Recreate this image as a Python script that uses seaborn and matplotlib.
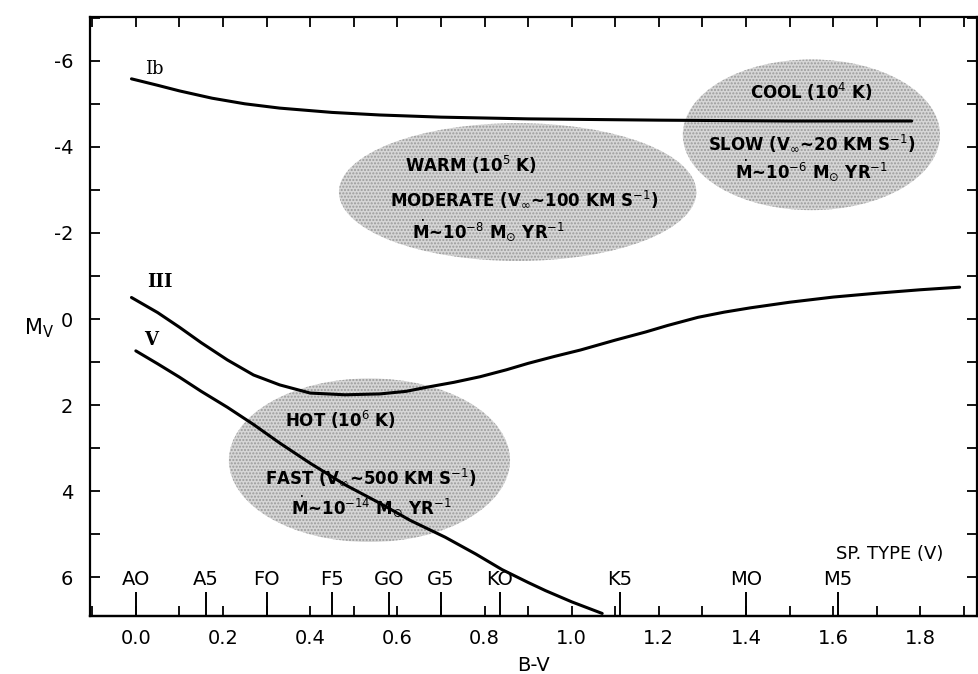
import numpy as np
import pandas as pd
import seaborn as sb
import matplotlib.pyplot as plt
from matplotlib.patches import Ellipse
from matplotlib.ticker import FuncFormatter, MultipleLocator

# luminosity class sequences (B-V vs M_V)
bv_ib = [-0.01, 0.05, 0.1, 0.175, 0.25, 0.33, 0.45, 0.56, 0.7, 0.9, 1.2, 1.5, 1.78]
mv_ib = [-5.58, -5.43, -5.3, -5.13, -5.0, -4.9, -4.8, -4.74, -4.69, -4.65, -4.62, -4.6, -4.6]

bv_iii = [-0.01, 0.05, 0.1, 0.15, 0.21, 0.27, 0.33, 0.40, 0.48, 0.56, 0.62, 0.67, 0.73, 0.79,
          0.85, 0.90, 0.96, 1.02, 1.10, 1.17, 1.22, 1.29, 1.35, 1.41, 1.50, 1.60, 1.70, 1.80, 1.89]
mv_iii = [-0.5, -0.15, 0.19, 0.55, 0.95, 1.3, 1.53, 1.72, 1.76, 1.74, 1.68, 1.58, 1.47, 1.34,
          1.18, 1.03, 0.87, 0.72, 0.49, 0.3, 0.15, -0.04, -0.16, -0.26, -0.39, -0.51, -0.6, -0.68, -0.74]

bv_v = [0.0, 0.05, 0.1, 0.15, 0.21, 0.27, 0.33, 0.40, 0.48, 0.56, 0.63, 0.71, 0.78, 0.84, 0.9, 0.94, 1.0, 1.07]
mv_v = [0.74, 1.04, 1.35, 1.68, 2.05, 2.45, 2.88, 3.35, 3.85, 4.28, 4.68, 5.07, 5.46, 5.82, 6.12, 6.31, 6.57, 6.84]

# spectral types of the main sequence
sp_types = ['AO', 'A5', 'FO', 'F5', 'GO', 'G5', 'KO', 'K5', 'MO', 'M5']
sp_bv = [0.0, 0.16, 0.30, 0.45, 0.58, 0.70, 0.835, 1.11, 1.40, 1.61]

# wind regions: centre B-V, centre M_V, width, height
wind_names = ['cool', 'warm', 'hot']
wind_bv = [1.55, 0.876, 0.536]
wind_mv = [-4.28, -2.95, 3.28]
wind_w = [0.59, 0.82, 0.645]
wind_h = [3.5, 3.2, 3.8]

df = pd.concat([
    pd.DataFrame({'bv': bv_ib, 'mv': mv_ib, 'cls': 'Ib'}),
    pd.DataFrame({'bv': bv_iii, 'mv': mv_iii, 'cls': 'III'}),
    pd.DataFrame({'bv': bv_v, 'mv': mv_v, 'cls': 'V'}),
])

sb.set_style("ticks")
plt.rcParams['font.family'] = ['DejaVu Sans']
plt.rcParams.update({'text.color': 'k', 'axes.labelcolor': 'k',
                     'xtick.color': 'k', 'ytick.color': 'k'})

fig, ax = plt.subplots(figsize=(9.79, 6.74), dpi=100)
fig.subplots_adjust(left=0.092, right=0.998, bottom=0.086, top=0.975)

for cx, cy, w, h in zip(wind_bv, wind_mv, wind_w, wind_h):
    ax.add_patch(Ellipse((cx, cy), w, h, facecolor='#d6d6d6', edgecolor='#9a9a9a',
                         hatch='.....', linewidth=0, zorder=0))

sb.lineplot(data=df, x='bv', y='mv', hue='cls', palette={'Ib': 'k', 'III': 'k', 'V': 'k'},
            legend=False, linewidth=2.2, estimator=None, ax=ax, zorder=3)

ax.set_xlim(-0.105, 1.93)
ax.set_ylim(6.9, -7.02)

# curve labels
ax.text(0.02, -5.82, 'Ib', fontsize=13, family='DejaVu Serif', ha='left', va='center')
ax.text(0.025, -0.85, 'III', fontsize=13, family='DejaVu Serif', weight='bold', ha='left', va='center')
ax.text(0.02, 0.48, 'V', fontsize=13, family='DejaVu Serif', weight='bold', ha='left', va='center')

kw = dict(fontsize=12, weight='bold', ha='center', va='center', zorder=4)
ax.text(1.55, -5.28, r'COOL (10$^{4}$ K)', **kw)
ax.text(1.55, -4.09, r'SLOW (V$_{\infty}$~20 KM S$^{-1}$)', **kw)
ax.text(1.55, -3.45, r'$\dot{\bf M}$~10$^{-6}$ M$_{\odot}$ YR$^{-1}$', **kw)

ax.text(0.77, -3.58, r'WARM (10$^{5}$ K)', **kw)
ax.text(0.89, -2.77, r'MODERATE (V$_{\infty}$~100 KM S$^{-1}$)', **kw)
ax.text(0.81, -2.05, r'$\dot{\bf M}$~10$^{-8}$ M$_{\odot}$ YR$^{-1}$', **kw)

ax.text(0.47, 2.35, r'HOT (10$^{6}$ K)', **kw)
ax.text(0.54, 3.67, r'FAST (V$_{\infty}$~500 KM S$^{-1}$)', **kw)
ax.text(0.54, 4.35, r'$\dot{\bf M}$~10$^{-14}$ M$_{\odot}$ YR$^{-1}$', **kw)

ax.text(1.73, 5.45, 'SP. TYPE (V)', fontsize=13, ha='center', va='center')

# axes ticks
ax.xaxis.set_major_locator(MultipleLocator(0.1))
ax.xaxis.set_major_formatter(FuncFormatter(
    lambda v, p: f'{v:.1f}' if abs(round(v * 10)) % 2 == 0 else ''))
ax.yaxis.set_major_locator(MultipleLocator(1))
ax.yaxis.set_major_formatter(FuncFormatter(
    lambda v, p: f'{int(round(v))}' if int(round(v)) % 2 == 0 else ''))
ax.tick_params(axis='both', direction='in', top=True, right=True, length=7, width=1.3, labelsize=14)
ax.tick_params(axis='x', pad=9)
ax.tick_params(axis='y', pad=12)

sec = ax.secondary_xaxis('bottom')
sec.set_xticks(sp_bv, labels=sp_types)
sec.tick_params(direction='in', length=17, width=1.4, pad=-33, labelsize=14, colors='k')
sec.spines['bottom'].set_linewidth(1.6)
sec.spines['bottom'].set_color('k')

for s in ax.spines.values():
    s.set_linewidth(1.6)
    s.set_color('k')

ax.set_xlabel('B-V', fontsize=14, labelpad=6)
ax.set_ylabel(r'M$_{\rm V}$', fontsize=15, rotation=0)
ax.yaxis.set_label_coords(-0.058, 0.46)

plt.savefig('out.png', dpi=100)
